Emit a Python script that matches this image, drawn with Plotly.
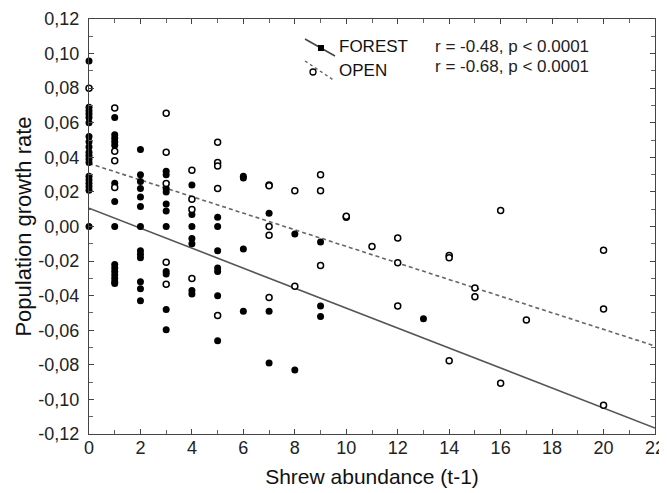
import plotly.graph_objects as go

# ---- data ----
forest_x = ([0]*19 + [1]*15 + [2]*13 + [3]*11 + [4]*7 + [5]*7 + [6]*4 + [7]*3 + [8]*2 + [9]*3 + [13])
forest_y = [0.0957, 0.069, 0.067, 0.065, 0.063, 0.060, 0.052, 0.049, 0.046, 0.043, 0.041, 0.039, 0.037,
            0.029, 0.027, 0.025, 0.023, 0.021, 0.0,
            0.063, 0.053, 0.051, 0.049, 0.047, 0.025, 0.0145, 0.0,
            -0.022, -0.024, -0.026, -0.028, -0.030, -0.032, -0.033,
            0.0446, 0.030, 0.026, 0.022, 0.017, 0.0115, 0.0, -0.014, -0.016, -0.018, -0.032, -0.036, -0.043,
            0.032, 0.030, 0.022, 0.020, 0.013, 0.009, 0.0, -0.026, -0.0275, -0.048, -0.0597,
            0.024, 0.007, 0.0, -0.007, -0.010, -0.037, -0.039,
            0.0053, 0.0, -0.014, -0.024, -0.026, -0.040, -0.066,
            0.029, 0.028, -0.013, -0.049,
            0.0077, -0.049, -0.079,
            -0.0044, -0.083,
            -0.009, -0.046, -0.052,
            -0.0534]

open_x = ([0] + [1]*4 + [3]*5 + [4]*4 + [5]*5 + [7]*5 + [8]*2 + [9]*3 + [10]*2 + [11] + [12]*3
          + [14]*3 + [15]*2 + [16]*2 + [17] + [20]*3)
open_y = [0.080,
          0.0686, 0.0435, 0.038, 0.0226,
          0.0655, 0.0429, 0.0249, -0.0207, -0.0334,
          0.0325, 0.0157, 0.0099, -0.030,
          0.0487, 0.037, 0.035, 0.022, -0.0514,
          0.024, 0.0235, 0.0, -0.005, -0.041,
          0.0207, -0.0345,
          0.030, 0.0207, -0.0225,
          0.0054, 0.006,
          -0.0115,
          -0.0067, -0.021, -0.046,
          -0.0167, -0.018, -0.0776,
          -0.0356, -0.0406,
          0.0092, -0.0906,
          -0.054,
          -0.0138, -0.0477, -0.1034]

# regression fits (intercept, slope) as drawn in the reference
forest_fit = (0.0106, -0.00578)
open_fit = (0.0365, -0.0048)
fit_x = [0, 22]

series_names = ["FOREST", "OPEN"]
stats_text = ["r = -0.48, p < 0.0001", "r = -0.68, p < 0.0001"]

x_ticks = list(range(0, 23, 2))
y_ticks = [0.12, 0.10, 0.08, 0.06, 0.04, 0.02, 0.0, -0.02, -0.04, -0.06, -0.08, -0.10, -0.12]
y_tick_labels = ["0,12", "0,10", "0,08", "0,06", "0,04", "0,02", "0,00",
                 "-0,02", "-0,04", "-0,06", "-0,08", "-0,10", "-0,12"]

FONT = "Liberation Sans, Arial, sans-serif"

fig = go.Figure()
fig.add_trace(go.Scatter(x=fit_x, y=[forest_fit[0] + forest_fit[1]*v for v in fit_x], mode="lines",
                         line=dict(color="#555555", width=1.6), showlegend=False, hoverinfo="skip"))
fig.add_trace(go.Scatter(x=fit_x, y=[open_fit[0] + open_fit[1]*v for v in fit_x], mode="lines",
                         line=dict(color="#666666", width=1.6, dash="4px,3px"), showlegend=False, hoverinfo="skip"))
fig.add_trace(go.Scatter(x=forest_x, y=forest_y, mode="markers", name=series_names[0], cliponaxis=False,
                         marker=dict(symbol="circle", size=7, color="black", line=dict(width=0)),
                         showlegend=False))
fig.add_trace(go.Scatter(x=open_x, y=open_y, mode="markers", name=series_names[1], cliponaxis=False,
                         marker=dict(symbol="circle", size=6, color="white", line=dict(color="black", width=1.5)),
                         showlegend=False))

# page body has an 8px default margin: figure is sized to fill the rest of the window
OFF = 8
W, H = 667 - OFF, 493 - OFF
# plot-area edges in window pixels, converted to figure pixels
L, R, T, B = 89 - OFF, 655 - OFF, 19 - OFF, 434 - OFF
def px(xp):
    return (xp - OFF - L) / (R - L)
def py(yp):
    return (B - (yp - OFF)) / (B - T)

shapes = [
    dict(type="line", xref="paper", yref="paper", x0=px(305), y0=py(39), x1=px(335), y1=py(56),
         line=dict(color="#444444", width=1.6)),
    dict(type="rect", xref="paper", yref="paper", x0=px(318), y0=py(45), x1=px(324), y1=py(51),
         fillcolor="black", line=dict(color="black", width=0)),
    dict(type="line", xref="paper", yref="paper", x0=px(305), y0=py(61), x1=px(335), y1=py(81),
         line=dict(color="#666666", width=1.4, dash="3px,3px")),
    dict(type="circle", xref="paper", yref="paper", x0=px(310), y0=py(69), x1=px(316), y1=py(75),
         fillcolor="white", line=dict(color="black", width=1.3)),
]
annotations = [
    dict(text=series_names[0], xref="paper", yref="paper", x=px(337), y=py(47), xanchor="left", yanchor="middle",
         showarrow=False, font=dict(family=FONT, size=17, color="#111111")),
    dict(text=series_names[1], xref="paper", yref="paper", x=px(337), y=py(70), xanchor="left", yanchor="middle",
         showarrow=False, font=dict(family=FONT, size=17, color="#111111")),
    dict(text=stats_text[0], xref="paper", yref="paper", x=px(433), y=py(46), xanchor="left", yanchor="middle",
         showarrow=False, font=dict(family=FONT, size=17, color="#222222")),
    dict(text=stats_text[1], xref="paper", yref="paper", x=px(433), y=py(66), xanchor="left", yanchor="middle",
         showarrow=False, font=dict(family=FONT, size=17, color="#222222")),
]

fig.update_layout(
    width=W, height=H,
    margin=dict(l=L, r=W - R, t=T, b=H - B, autoexpand=False),
    paper_bgcolor="white", plot_bgcolor="white",
    font=dict(family=FONT, size=18, color="#222222"),
    showlegend=False,
    shapes=shapes, annotations=annotations,
)
fig.update_xaxes(
    range=[0, 22], tickvals=x_ticks, ticktext=[str(v) for v in x_ticks], automargin=False,
    showgrid=False, zeroline=False, showline=True, linecolor="#444444", linewidth=1.2, mirror="ticks",
    ticks="inside", ticklen=5, tickcolor="#444444", ticklabelstandoff=-3,
    minor=dict(dtick=1, ticks="inside", ticklen=4, tickcolor="#666666", showgrid=False),
    tickfont=dict(family=FONT, size=18, color="#222222"),
    title=dict(text="Shrew abundance (t-1)", font=dict(family=FONT, size=21, color="#111111"), standoff=12),
)
fig.update_yaxes(
    range=[-0.12, 0.12], tickvals=y_ticks, ticktext=y_tick_labels, automargin=False,
    showgrid=False, zeroline=False, showline=True, linecolor="#444444", linewidth=1.2, mirror="ticks",
    ticks="inside", ticklen=5, tickcolor="#444444", ticklabelstandoff=5,
    minor=dict(dtick=0.01, ticks="inside", ticklen=4, tickcolor="#666666", showgrid=False),
    tickfont=dict(family=FONT, size=18, color="#222222"),
    title=dict(text="Population growth rate", font=dict(family=FONT, size=22, color="#111111"), standoff=0),
)

fig.write_html("out.html")
